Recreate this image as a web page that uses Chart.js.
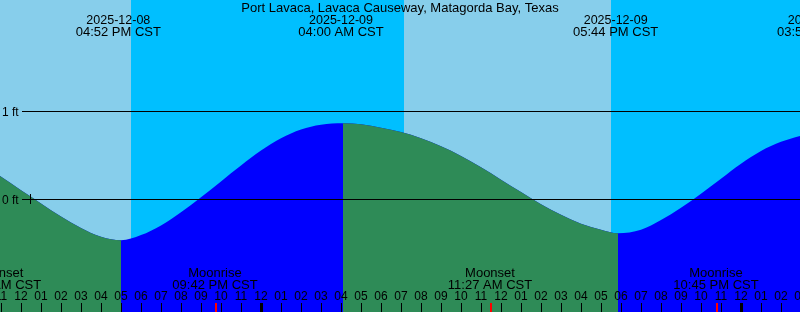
<!DOCTYPE html>
<html><head><meta charset="utf-8">
<script src="https://cdn.jsdelivr.net/npm/chart.js@4/dist/chart.umd.min.js"></script>
<style>html,body{margin:0;padding:0;background:#fff;overflow:hidden}</style>
</head><body>
<canvas id="c" width="800" height="312"></canvas>
<script>
// All times are hours since 2025-12-08 00:00 CST
const title = "Port Lavaca, Lavaca Causeway, Matagorda Bay, Texas";

const tideHours = [10.95, 12, 13, 14, 15, 16, 17,
  18, 19, 20, 21, 22, 23, 24, 25, 26, 27, 28.1,
  29, 30, 31, 32, 33, 34, 35, 36, 37, 38, 39, 40, 41, 41.85,
  43, 44, 45, 46, 47, 48, 49, 50, 51];
const tideFeet = [0.26, 0.10, -0.05, -0.20, -0.33, -0.43, -0.47,
  -0.41, -0.30, -0.15, 0.02, 0.20, 0.38, 0.55, 0.69, 0.79, 0.845, 0.86,
  0.85, 0.81, 0.76, 0.69, 0.60, 0.49, 0.36, 0.22, 0.08, -0.06, -0.18, -0.28, -0.35, -0.39,
  -0.35, -0.24, -0.10, 0.06, 0.23, 0.40, 0.545, 0.65, 0.72];

const extremeHours = [16.867, 28.0, 41.733, 51.933];
const extremeDates = ["2025-12-08", "2025-12-09", "2025-12-09", "2025-12-10"];
const extremeTimes = ["04:52 PM CST", "04:00 AM CST", "05:44 PM CST", "03:56 AM CST"];

const sunHours = [17.5, 31.15, 41.5];          // sunset, sunrise, sunset
const moonHours = [10.875, 21.7, 35.45, 46.75];
const moonNames = ["Moonset", "Moonrise", "Moonset", "Moonrise"];
const moonTimes = ["10:52 AM CST", "09:42 PM CST", "11:27 AM CST", "10:45 PM CST"];

const hourTicks = [11,12,13,14,15,16,17,18,19,20,21,22,23,24,25,26,27,28,29,30,31,32,33,34,35,36,37,38,39,40,41,42,43,44,45,46,47,48,49,50,51];
const hourLabels = ["11","12","01","02","03","04","05","06","07","08","09","10","11","12","01","02","03","04","05","06","07","08","09","10","11","12","01","02","03","04","05","06","07","08","09","10","11","12","01","02","03"];
const midnightHours = [24, 48];

const depthLevels = [0, 1];
const depthLabels = ["0 ft", "1 ft"];
const nowHour = 12.45;

const DAY = '#87CEEB', NIGHT = '#00BFFF', EBB = '#2E8B57', FLOOD = '#0000FF';
const FAM = '"Liberation Sans", Arial, sans-serif';

const tidePlugin = {
  id: 'tide',
  beforeDatasetsDraw(chart) {
    const {ctx, chartArea: a, scales: {x}} = chart;
    ctx.save();
    ctx.fillStyle = NIGHT;
    ctx.fillRect(a.left, a.top, a.width, a.height);
    const edges = [x.min, ...sunHours, x.max];
    ctx.fillStyle = DAY;
    for (let i = 0; i < edges.length - 1; i += 2) {
      const x0 = x.getPixelForValue(edges[i]), x1 = x.getPixelForValue(edges[i + 1]);
      ctx.fillRect(x0, a.top, x1 - x0, a.height);
    }
    ctx.restore();
  },
  afterDatasetsDraw(chart) {
    const {ctx, chartArea: a, scales: {x, y}} = chart;
    ctx.save();
    ctx.fillStyle = '#000';
    ctx.font = '12px ' + FAM;
    depthLevels.forEach((v, i) => {
      const py = Math.round(y.getPixelForValue(v));
      ctx.fillRect(22, py, a.right - 22, 1);
      ctx.textAlign = 'left';
      ctx.fillText(depthLabels[i], 2, py + 5);
    });
    const nx = Math.round(x.getPixelForValue(nowHour));
    const ny = Math.round(y.getPixelForValue(0));
    ctx.fillRect(nx, ny - 5, 1, 10);
    ctx.textAlign = 'center';
    ctx.font = '13px ' + FAM;
    ctx.fillText(title, (a.left + a.right) / 2, 12);
    extremeHours.forEach((h, i) => {
      const px = x.getPixelForValue(h);
      ctx.font = '12.5px ' + FAM;
      ctx.fillText(extremeDates[i], px, 24);
      ctx.font = '13px ' + FAM;
      ctx.fillText(extremeTimes[i], px, 36);
    });
    ctx.font = '13px ' + FAM;
    moonHours.forEach((h, i) => {
      const px = x.getPixelForValue(h);
      ctx.fillText(moonNames[i], px, 277);
      ctx.fillText(moonTimes[i], px, 289);
    });
    ctx.font = '12px ' + FAM;
    hourTicks.forEach((h, i) => {
      const px = Math.round(x.getPixelForValue(h));
      ctx.fillText(hourLabels[i], px, 300);
      ctx.fillRect(px, 303, 1, 9);
    });
    midnightHours.forEach(h => {
      const px = Math.round(x.getPixelForValue(h));
      ctx.fillRect(px - 1, 303, 3, 9);
    });
    ctx.fillStyle = '#FF0000';
    moonHours.forEach(h => {
      const px = Math.round(x.getPixelForValue(h));
      if (px >= a.left) ctx.fillRect(px, 303, 2, 9);
    });
    ctx.restore();
  }
};

const tidePoints = tideHours.map((h, i) => ({x: h, y: tideFeet[i]}));

new Chart(document.getElementById('c'), {
  type: 'line',
  data: {
    datasets: [{
      data: tidePoints,
      borderWidth: 0,
      borderColor: 'rgba(0,0,0,0)',
      pointRadius: 0,
      fill: 'start',
      backgroundColor: EBB,
      cubicInterpolationMode: 'monotone',
      segment: {
        backgroundColor: c => c.p1.parsed.y < c.p0.parsed.y ? EBB : 'rgba(0,0,0,0)'
      }
    }, {
      data: tidePoints,
      borderWidth: 0,
      borderColor: 'rgba(0,0,0,0)',
      pointRadius: 0,
      fill: 'start',
      backgroundColor: FLOOD,
      cubicInterpolationMode: 'monotone'
    }]
  },
  options: {
    responsive: false,
    devicePixelRatio: 1,
    animation: false,
    events: [],
    layout: {padding: 0},
    plugins: {legend: {display: false}, tooltip: {enabled: false}, title: {display: false}},
    scales: {
      x: {type: 'linear', min: 10.95, max: 50.95, display: false},
      y: {type: 'linear', min: -1.2841, max: 2.2614, display: false}
    }
  },
  plugins: [tidePlugin]
});
</script>
</body></html>
